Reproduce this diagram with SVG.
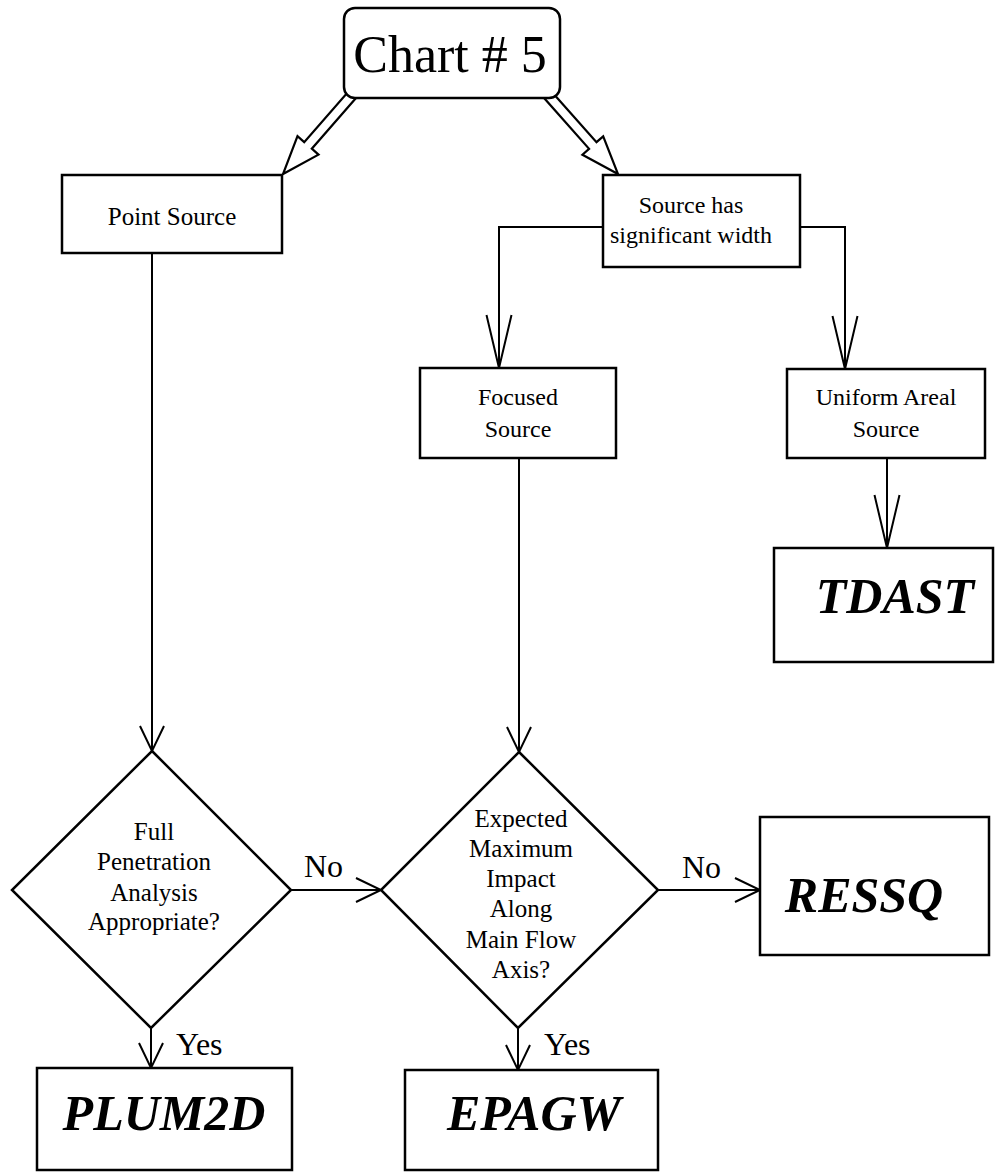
<svg xmlns="http://www.w3.org/2000/svg" width="996" height="1172" viewBox="0 0 996 1172">
  <style>
    .box { fill: #ffffff; stroke: #000000; stroke-width: 2.5; }
    .line { fill: none; stroke: #000000; stroke-width: 2; }
    .block { fill: #ffffff; stroke: #000000; stroke-width: 2.2; stroke-linejoin: miter; }
    .txt { font-family: "Liberation Serif", "Times New Roman", serif; font-size: 24px; fill: #000000; text-anchor: middle; }
    .q { font-size: 25px; }
    .lbl { font-family: "Liberation Serif", "Times New Roman", serif; font-size: 32px; fill: #000000; }
    .title { font-family: "Liberation Serif", "Times New Roman", serif; font-size: 52px; fill: #000000; text-anchor: middle; }
    .model { font-family: "Liberation Serif", "Times New Roman", serif; font-size: 50px; font-weight: bold; font-style: italic; fill: #000000; text-anchor: middle; }
  </style>
  <defs>
    <marker id="vLong" markerUnits="userSpaceOnUse" orient="auto" overflow="visible" markerWidth="60" markerHeight="30" refX="0" refY="0">
      <path d="M -53,-12.5 L 0,0 L -53,12.5" fill="none" stroke="#000000" stroke-width="2"/>
    </marker>
    <marker id="vShort" markerUnits="userSpaceOnUse" orient="auto" overflow="visible" markerWidth="30" markerHeight="30" refX="0" refY="0">
      <path d="M -25,-12 L 0,0 L -25,12" fill="none" stroke="#000000" stroke-width="2"/>
    </marker>
  </defs>

  <g id="connectors">
    <!-- hollow block arrows from the title box -->
    <polygon class="block" points="355.8,98.3 311.8,148.7 318.5,154.6 283,174 297.5,136.2 304.2,142.1 348.2,91.7"/>
    <polygon class="block" points="551.7,91.7 596.5,142.2 603.2,136.3 618,174 582.4,154.8 589.1,148.8 544.3,98.3"/>
    <!-- source width split -->
    <polyline class="line" points="603,227 499,227 499,368" marker-end="url(#vLong)"/>
    <polyline class="line" points="800,227 845,227 845,369" marker-end="url(#vLong)"/>
    <line class="line" x1="887" y1="458" x2="887" y2="548" marker-end="url(#vLong)"/>
    <!-- into the decisions -->
    <line class="line" x1="152" y1="253" x2="152" y2="751" marker-end="url(#vShort)"/>
    <line class="line" x1="519" y1="458" x2="519" y2="752" marker-end="url(#vShort)"/>
    <!-- decision outcomes -->
    <line class="line" x1="290" y1="890" x2="381" y2="890" marker-end="url(#vShort)"/>
    <line class="line" x1="658" y1="890" x2="760" y2="890" marker-end="url(#vShort)"/>
    <line class="line" x1="151" y1="1028" x2="151" y2="1068" marker-end="url(#vShort)"/>
    <line class="line" x1="518" y1="1028" x2="518" y2="1070" marker-end="url(#vShort)"/>
    <text class="lbl" x="304" y="877">No</text>
    <text class="lbl" x="682" y="878">No</text>
    <text class="lbl" x="176" y="1055">Yes</text>
    <text class="lbl" x="544" y="1055">Yes</text>
  </g>

  <g id="chart5">
    <rect class="box" x="344" y="8" width="216" height="90" rx="11" ry="11"/>
    <text class="title" x="450" y="72">Chart # 5</text>
  </g>

  <g id="point-source">
    <rect class="box" x="62" y="175" width="220" height="78"/>
    <text class="txt q" x="172" y="225">Point Source</text>
  </g>

  <g id="wide-source">
    <rect class="box" x="603" y="175" width="197" height="92"/>
    <text class="txt" x="691" y="213">Source has</text>
    <text class="txt" x="691" y="243">significant width</text>
  </g>

  <g id="focused-source">
    <rect class="box" x="420" y="368" width="196" height="90"/>
    <text class="txt" x="518" y="405">Focused</text>
    <text class="txt" x="518" y="437">Source</text>
  </g>

  <g id="areal-source">
    <rect class="box" x="787" y="369" width="198" height="89"/>
    <text class="txt" x="886" y="405">Uniform Areal</text>
    <text class="txt" x="886" y="437">Source</text>
  </g>

  <g id="tdast">
    <rect class="box" x="774" y="548" width="219" height="114"/>
    <text class="model" x="895" y="613">TDAST</text>
  </g>

  <g id="full-penetration">
    <polygon class="box" points="152,751 291,890 151,1028 12,890"/>
    <text class="txt q" x="154" y="840">Full</text>
    <text class="txt q" x="154" y="870">Penetration</text>
    <text class="txt q" x="154" y="901">Analysis</text>
    <text class="txt q" x="154" y="930">Appropriate?</text>
  </g>

  <g id="max-impact">
    <polygon class="box" points="519,752 658,890 518,1028 381,890"/>
    <text class="txt q" x="521" y="827">Expected</text>
    <text class="txt q" x="521" y="857">Maximum</text>
    <text class="txt q" x="521" y="887">Impact</text>
    <text class="txt q" x="521" y="917">Along</text>
    <text class="txt q" x="521" y="948">Main Flow</text>
    <text class="txt q" x="521" y="978">Axis?</text>
  </g>

  <g id="ressq">
    <rect class="box" x="760" y="817" width="229" height="138"/>
    <text class="model" x="864" y="912">RESSQ</text>
  </g>

  <g id="plum2d">
    <rect class="box" x="37" y="1068" width="255" height="102"/>
    <text class="model" x="164" y="1130">PLUM2D</text>
  </g>

  <g id="epagw">
    <rect class="box" x="405" y="1070" width="253" height="100"/>
    <text class="model" x="534" y="1130">EPAGW</text>
  </g>
</svg>
